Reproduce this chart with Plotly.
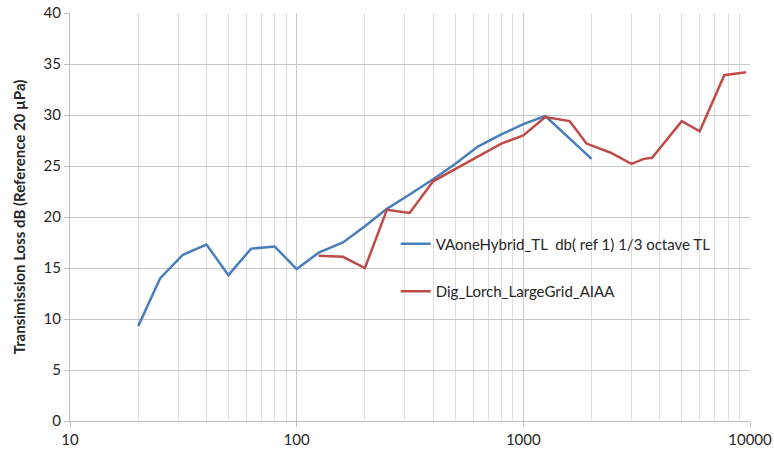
import plotly.graph_objects as go

# Data
blue_freq = [20, 25, 31.5, 40, 50, 63, 80, 100, 125, 160, 200, 250, 315, 400, 500, 630, 800, 1000, 1250, 2000]
blue_tl = [9.3, 14.0, 16.3, 17.3, 14.3, 16.9, 17.1, 14.9, 16.5, 17.5, 19.1, 20.8, 22.2, 23.7, 25.2, 26.9, 28.1, 29.1, 29.9, 25.7]

red_freq = [125, 160, 200, 250, 315, 400, 500, 630, 800, 1000, 1250, 1600, 1900, 2430, 3000, 3400, 3700, 5000, 6000, 7700, 9600]
red_tl = [16.2, 16.1, 15.0, 20.7, 20.4, 23.5, 24.7, 25.9, 27.2, 28.0, 29.8, 29.4, 27.2, 26.3, 25.2, 25.7, 25.8, 29.4, 28.4, 33.9, 34.2]

blue_name = "VAoneHybrid_TL  db( ref 1) 1/3 octave TL"
red_name = "Dig_Lorch_LargeGrid_AIAA"

x_ticks = [10, 100, 1000, 10000]
y_ticks = [0, 5, 10, 15, 20, 25, 30, 35, 40]

font_family = "Lato, 'Open Sans', sans-serif"

fig = go.Figure()
fig.add_trace(go.Scatter(x=blue_freq, y=blue_tl, mode="lines", name=blue_name,
                         legendgroup="a",
                         line=dict(color="#4A7EBB", width=2.5)))
fig.add_trace(go.Scatter(x=red_freq, y=red_tl, mode="lines", name=red_name,
                         legendgroup="b",
                         line=dict(color="#BE4B48", width=2.5)))

fig.update_layout(
    width=774, height=455,
    margin=dict(l=70, r=24, t=13, b=34),
    paper_bgcolor="white", plot_bgcolor="white",
    font=dict(family=font_family, size=15, color="#262626"),
    showlegend=True,
    legend=dict(x=0.479, y=0.474, xanchor="left", yanchor="top",
                bgcolor="rgba(0,0,0,0)", font=dict(size=15, color="#262626"),
                tracegroupgap=25, itemwidth=30),
    xaxis=dict(type="log", range=[1, 4], tickvals=x_ticks,
               ticktext=[str(v) for v in x_ticks],
               showgrid=True, gridcolor="#c8c8c8", gridwidth=1,
               minor=dict(dtick="D1", showgrid=True, gridcolor="#dedede", gridwidth=1,
                          ticks=""),
               showline=True, linecolor="#bfbfbf", linewidth=1,
               ticks="outside", ticklen=5, tickcolor="#bfbfbf",
               zeroline=False, tickfont=dict(size=15), automargin=False),
    yaxis=dict(range=[0, 40], tickvals=y_ticks,
               showgrid=True, gridcolor="#c8c8c8", gridwidth=1,
               showline=True, linecolor="#bfbfbf", linewidth=1,
               ticks="outside", ticklen=5, tickcolor="#bfbfbf",
               zeroline=False, tickfont=dict(size=15), automargin=False,
               title=dict(text="<b>Transimission Loss dB (Reference 20 µPa)</b>",
                          font=dict(size=15, color="#262626"), standoff=14)),
)

fig.write_html("out.html")
